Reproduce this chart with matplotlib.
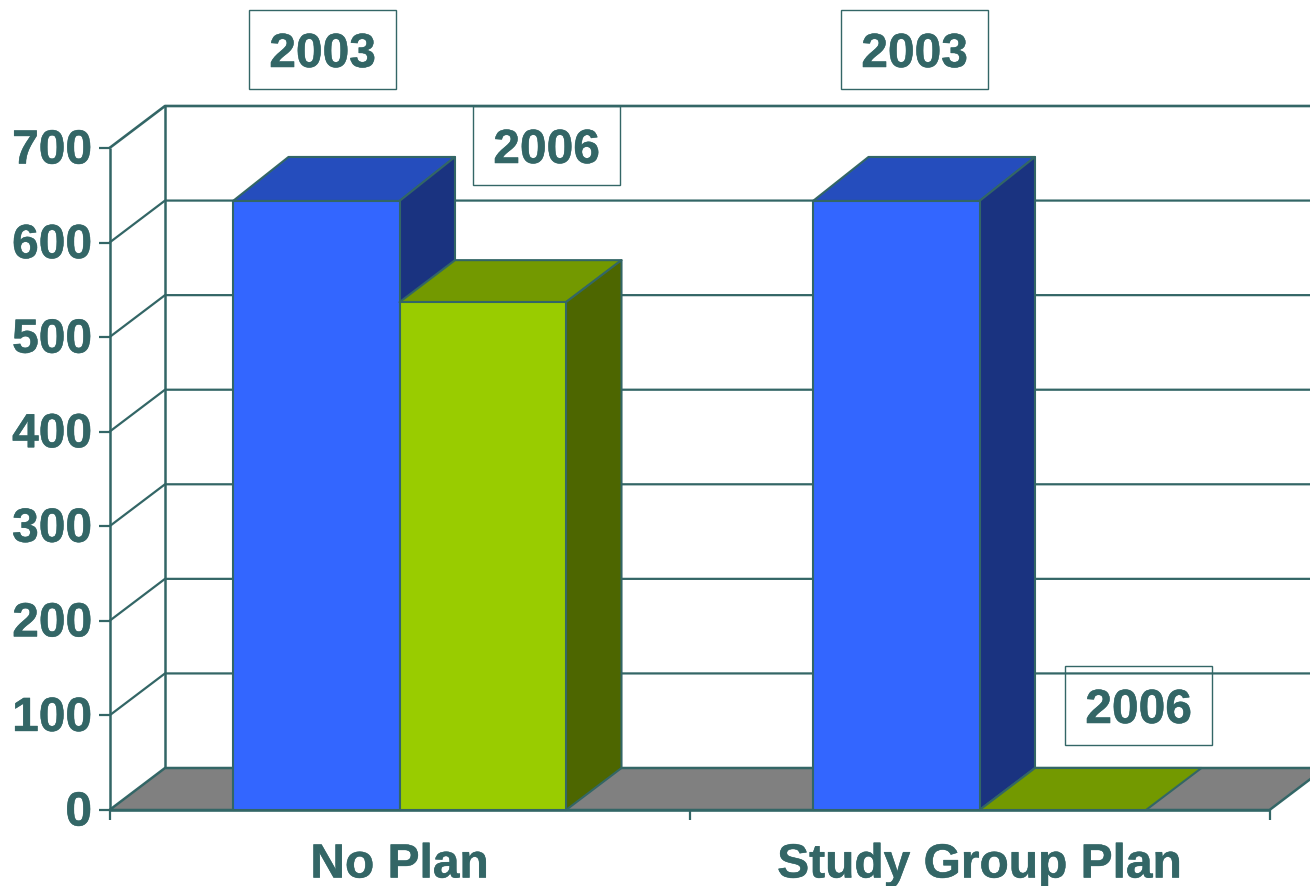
import matplotlib
matplotlib.use("Agg")
import matplotlib.pyplot as plt
import matplotlib.patheffects as pe
from matplotlib.patches import Polygon

categories = ["No Plan", "Study Group Plan"]
series_names = ["2003", "2006"]
values_2003 = [644, 644]
values_2006 = [537, 0]
y_ticks = [0, 100, 200, 300, 400, 500, 600, 700]

W, H = 1310, 886
LINE = "#336666"
plt.rcParams["font.family"] = ["Liberation Sans", "DejaVu Sans"]
fig = plt.figure(figsize=(W / 100, H / 100), dpi=100)
L, R, B, T = 109.5, 1269.5, 810.0, 148.0
ax = fig.add_axes([L / W, (H - B) / H, (R - L) / W, (B - T) / H])
ax.set_xlim(0, 2)
ax.set_ylim(0, 700)
ax.axis("off")

PXX = (R - L) / 2
PXY = (B - T) / 700
DX = 55.5 / PXX
DY = 42 / PXY
BW = 166.5 / PXX
TOP_EXTRA = {"2003": 2 / PXY, "2006": 0}

def poly(pts, fc, z, ec=LINE, lw=1.5):
    ax.add_patch(Polygon(pts, closed=True, fc=fc, ec=ec, lw=lw, zorder=z, clip_on=False, joinstyle="round"))

def line(xs, ys, z=1, lw=1.6):
    ax.plot(xs, ys, color=LINE, lw=lw, zorder=z, clip_on=False, solid_capstyle="butt")

# floor
poly([(0, 0), (DX, DY), (2 + DX, DY), (2, 0)], "#808080", 1, lw=1.8)
# back wall gridlines and side wall
for t in y_ticks:
    if t > 0:
        line([0, DX, 2 + DX], [t, t + DY, t + DY], 2, lw=1.9 if t == 700 else 1.6)
line([DX, DX], [DY, 700 + DY], 2, lw=1.8)
line([0, 0], [0, 700], 2, lw=1.8)
line([0, 2], [0, 0], 9, lw=1.8)
# axis ticks
for t in y_ticks:
    line([-11 / PXX, 0], [t, t], 2)
for i in range(3):
    line([i, i], [0, -10 / PXY], 2)

FRONT = {"2003": "#3366FF", "2006": "#99CC00"}
TOP = {"2003": "#254DBD", "2006": "#739900"}
SIDE = {"2003": "#1A3380", "2006": "#4D6600"}

def bar3d(x0, v, name, z):
    x1 = x0 + BW
    back = v + DY + TOP_EXTRA[name]
    poly([(x0, v), (x0 + DX, back), (x1 + DX, back), (x1, v)], TOP[name], z)
    if v > 0:
        poly([(x1, 0), (x1 + DX, DY), (x1 + DX, back), (x1, v)], SIDE[name], z)
        poly([(x0, 0), (x1, 0), (x1, v), (x0, v)], FRONT[name], z + 0.5)

for i in range(len(categories)):
    c = i + 0.5
    bar3d(c - BW, values_2003[i], "2003", 5)
    bar3d(c, values_2006[i], "2006", 6)

stroke = [pe.withStroke(linewidth=0.35, foreground=LINE)]
tk = dict(color=LINE, fontweight="bold", fontsize=34.5, clip_on=False, path_effects=stroke)
for t in y_ticks:
    ax.annotate(str(t), (0, t), xytext=(-17.5, 2), textcoords="offset pixels", ha="right", va="center_baseline", **tk)
for i, c in enumerate(categories):
    ax.annotate(c, (i + 0.5, 0), xytext=(0, -50), textcoords="offset pixels", ha="center", va="center_baseline", **tk)

def label(xpx, ypx, s):
    fig.text(xpx / W, 1 - (ypx - 0.5) / H, s, ha="center", va="center_baseline", color=LINE,
             fontweight="bold", fontsize=34.5, zorder=20, path_effects=stroke)
    x0, x1 = xpx - 73.5, xpx + 73.5
    y0, y1 = ypx - 40, ypx + 39
    fig.add_artist(plt.Rectangle((x0 / W, 1 - y1 / H), (x1 - x0) / W, (y1 - y0) / H, fc="none", ec=LINE, lw=1.0,
                                 transform=fig.transFigure, zorder=19))

label(322.5, 50, series_names[0])
label(546.5, 146, series_names[1])
label(914.5, 50, series_names[0])
label(1138.5, 706, series_names[1])

fig.savefig("out.png", dpi=100)
